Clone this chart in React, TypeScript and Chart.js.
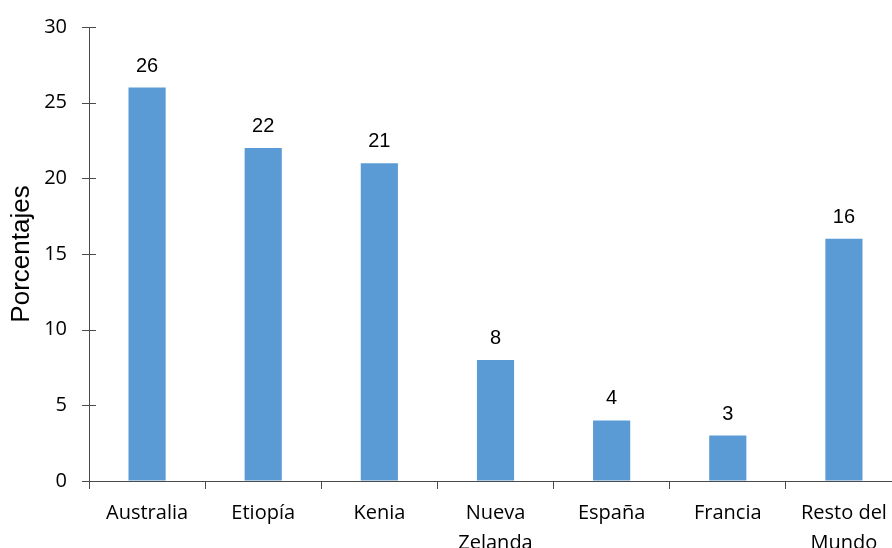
import React, { useEffect, useRef } from "react";
import { Chart, registerables } from "chart.js";

Chart.register(...registerables);

const categories: (string | string[])[] = [
  "Australia",
  "Etiopía",
  "Kenia",
  ["Nueva", "Zelanda"],
  "España",
  "Francia",
  ["Resto del", "Mundo"],
];
const percentages: number[] = [26, 22, 21, 8, 4, 3, 16];
const yTicks: number[] = [0, 5, 10, 15, 20, 25, 30];

const AXIS_COLOR = "#4a4a4a";
const BAR_COLOR = "#5B9BD5";
const W = 904;
const H = 560;

// Y ticks that cross the axis line
const crossTicks = {
  id: "crossTicks",
  afterDraw(chart: any) {
    const y = chart.scales.y;
    const ctx = chart.ctx;
    ctx.save();
    ctx.strokeStyle = AXIS_COLOR;
    ctx.lineWidth = 1;
    for (const v of yTicks) {
      const py = Math.round(y.getPixelForValue(v)) + 0.5;
      ctx.beginPath();
      ctx.moveTo(y.right - 7, py);
      ctx.lineTo(y.right + 7, py);
      ctx.stroke();
    }
    ctx.restore();
  },
};

// Value labels above each bar
const valueLabels = {
  id: "valueLabels",
  afterDatasetsDraw(chart: any) {
    const ctx = chart.ctx;
    const meta = chart.getDatasetMeta(0);
    ctx.save();
    ctx.font = '20px "Liberation Sans", Arial, sans-serif';
    ctx.fillStyle = "#000";
    ctx.textAlign = "center";
    ctx.textBaseline = "alphabetic";
    meta.data.forEach((bar: any, i: number) => {
      ctx.fillText(String(percentages[i]), bar.x, bar.y - 16);
    });
    ctx.restore();
  },
};

export default function App() {
  const ref = useRef<HTMLCanvasElement | null>(null);

  useEffect(() => {
    document.documentElement.style.overflow = "hidden";
    document.body.style.overflow = "hidden";
    const canvas = ref.current;
    if (!canvas) return;
    const chart = new Chart(canvas, {
      type: "bar",
      data: {
        labels: categories,
        datasets: [
          {
            data: percentages,
            backgroundColor: BAR_COLOR,
            borderWidth: 0,
            barPercentage: 0.64,
            categoryPercentage: 0.5,
          },
        ],
      },
      options: {
        responsive: false,
        animation: false,
        events: [],
        layout: { padding: { top: 25, right: 2, left: 0, bottom: 0 } },
        plugins: {
          legend: { display: false },
          tooltip: { enabled: false },
        },
        scales: {
          x: {
            offset: true,
            grid: {
              offset: true,
              drawOnChartArea: false,
              drawTicks: true,
              tickLength: 8,
              color: AXIS_COLOR,
            },
            border: { display: true, color: AXIS_COLOR, width: 1 },
            ticks: {
              color: "#000",
              font: { family: '"Open Sans", sans-serif', size: 20, lineHeight: 1.5 },
              padding: 9,
              maxRotation: 0,
              autoSkip: false,
            },
            afterFit(scale: any) {
              scale.height = H - 481;
            },
          },
          y: {
            min: 0,
            max: 30,
            grid: {
              drawOnChartArea: false,
              drawTicks: true,
              tickLength: 7,
              color: "rgba(0,0,0,0)",
            },
            border: { display: true, color: AXIS_COLOR, width: 1 },
            afterBuildTicks(scale: any) {
              scale.ticks = yTicks.map((v) => ({ value: v }));
            },
            ticks: {
              color: "#000",
              font: { family: '"Open Sans", sans-serif', size: 20 },
              padding: 15,
            },
            title: {
              display: true,
              text: "Porcentajes",
              color: "#000",
              font: { family: '"Liberation Sans", Arial, sans-serif', size: 26 },
              padding: { top: 6, bottom: 0 },
            },
            afterFit(scale: any) {
              scale.width = 89;
            },
          },
        },
      },
      plugins: [crossTicks, valueLabels],
    });
    return () => chart.destroy();
  }, []);

  return (
    <div style={{ position: "fixed", left: 0, top: 0, width: W, height: H, background: "#fff" }}>
      <canvas ref={ref} width={W} height={H} style={{ width: W, height: H, display: "block" }} />
    </div>
  );
}
